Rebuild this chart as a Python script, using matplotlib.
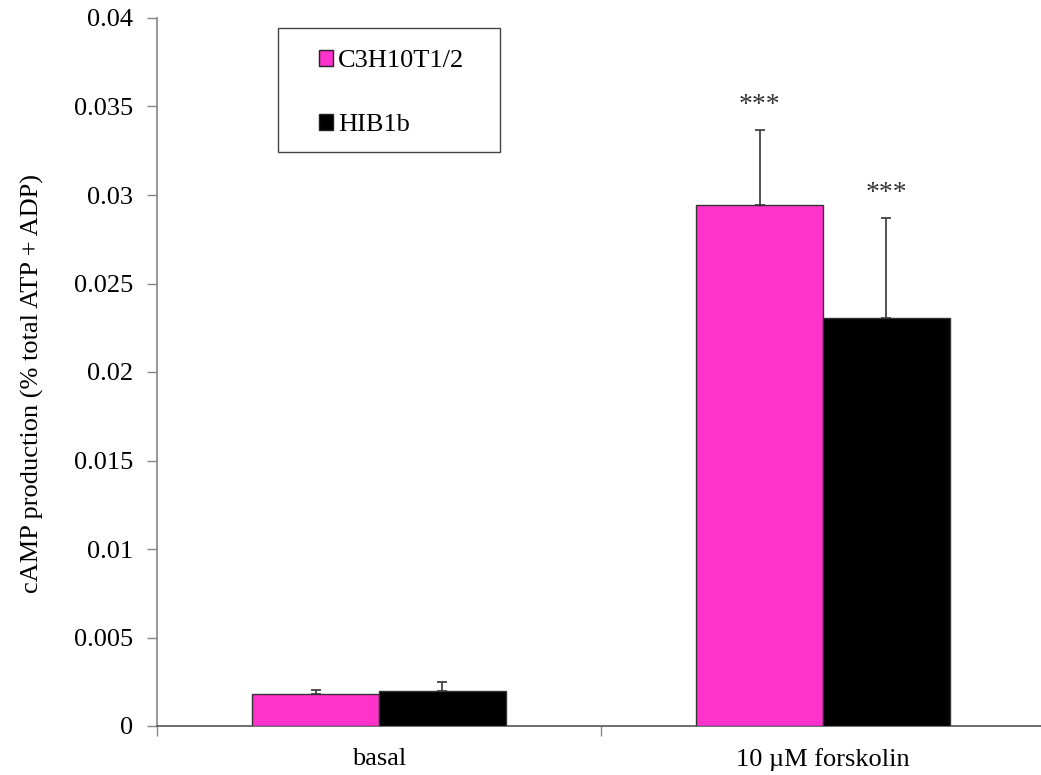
import matplotlib
matplotlib.use("Agg")
import matplotlib.pyplot as plt
import numpy as np
from matplotlib.patches import Rectangle, Patch

# Data
groups = ["basal", "10 \u00b5M forskolin"]
series_names = ["C3H10T1/2", "HIB1b"]
c3h_means = [0.00179, 0.02945]
c3h_sem = [0.00024, 0.00421]
hib_means = [0.00199, 0.02307]
hib_sem = [0.00051, 0.00561]
significance = ["", "***"]
y_ticks = [0, 0.005, 0.01, 0.015, 0.02, 0.025, 0.03, 0.035, 0.04]
y_tick_labels = ["0", "0.005", "0.01", "0.015", "0.02", "0.025", "0.03", "0.035", "0.04"]

PINK = "#FF33CC"
BLACK = "#000000"
FONT = "Liberation Serif"
FS = 19

plt.rcParams["font.family"] = [FONT, "DejaVu Serif"]

W, H = 1041, 775
fig = plt.figure(figsize=(W / 100, H / 100), dpi=100)
ax_left, ax_right = 157 / W, 1.0
ax_bottom, ax_top = 1 - 726 / H, 1 - 18 / H
ax = fig.add_axes([ax_left, ax_bottom, ax_right - ax_left, ax_top - ax_bottom])

x = np.arange(len(groups))
bw = 0.285
pos_a = x - bw / 2
pos_b = x + bw / 2

ax.bar(pos_a, c3h_means, width=bw, color=PINK, edgecolor="#333333", linewidth=1.0, zorder=3)
ax.bar(pos_b, hib_means, width=bw, color=BLACK, edgecolor="#333333", linewidth=1.0, zorder=3)

err_kw = dict(fmt="none", ecolor="#444444", elinewidth=1.3, capsize=3.5, capthick=1.3, zorder=2)
ax.errorbar(pos_a, c3h_means, yerr=[np.zeros(len(x)), c3h_sem], **err_kw)
ax.errorbar(pos_b, hib_means, yerr=[np.zeros(len(x)), hib_sem], **err_kw)

# significance markers above the error bars
for i, sig in enumerate(significance):
    if not sig:
        continue
    for p, m, e in ((pos_a[i], c3h_means[i], c3h_sem[i]), (pos_b[i], hib_means[i], hib_sem[i])):
        ax.annotate(sig, xy=(p, m + e), xytext=(0, 9), textcoords="offset points",
                    ha="center", va="bottom", fontsize=FS + 1, color="#333333")

# axes scales
span_px = (ax_right - ax_left) * W
ax.set_xlim(-0.5, -0.5 + span_px / 444.0)
ax.set_ylim(0, 0.04)

ax.set_yticks(y_ticks)
ax.set_yticklabels(y_tick_labels, fontsize=FS)
ax.tick_params(axis="y", direction="out", length=7, width=1.0, color="#888888", pad=10)

ax.set_xticks(x)
ax.set_xticklabels(groups, fontsize=FS)
ax.tick_params(axis="x", which="major", length=0, pad=16)
ax.set_xticks([-0.5, 0.5], minor=True)
ax.tick_params(axis="x", which="minor", direction="out", length=7, width=1.0, color="#888888")

for s in ("top", "right"):
    ax.spines[s].set_visible(False)
ax.spines["left"].set_color("#888888")
ax.spines["bottom"].set_color("#555555")
ax.spines["left"].set_linewidth(1.2)
ax.spines["bottom"].set_linewidth(1.2)

ax.set_ylabel("cAMP production (% total ATP + ADP)", fontsize=FS)
ax.yaxis.set_label_coords(44 / W, 0.5 + 4 / H, transform=fig.transFigure)

# legend box with entries
fig.patches.append(Rectangle((278 / W, 1 - 152 / H), 222 / W, 124 / H,
                             transform=fig.transFigure, facecolor="white",
                             edgecolor="#444444", linewidth=1.0, zorder=5))
handles = [Patch(facecolor=PINK, edgecolor="#222222", linewidth=1.0, label=series_names[0]),
           Patch(facecolor=BLACK, edgecolor="#222222", linewidth=1.0, label=series_names[1])]
leg = fig.legend(handles=handles, loc="upper left",
                 bbox_to_anchor=(319 / W, 1 - 50 / H), bbox_transform=fig.transFigure,
                 frameon=False, fontsize=FS, handlelength=0.53, handleheight=0.53,
                 handletextpad=0.2, labelspacing=1.6, borderpad=0, borderaxespad=0)
leg.set_zorder(6)

fig.savefig("out.png", dpi=100)
